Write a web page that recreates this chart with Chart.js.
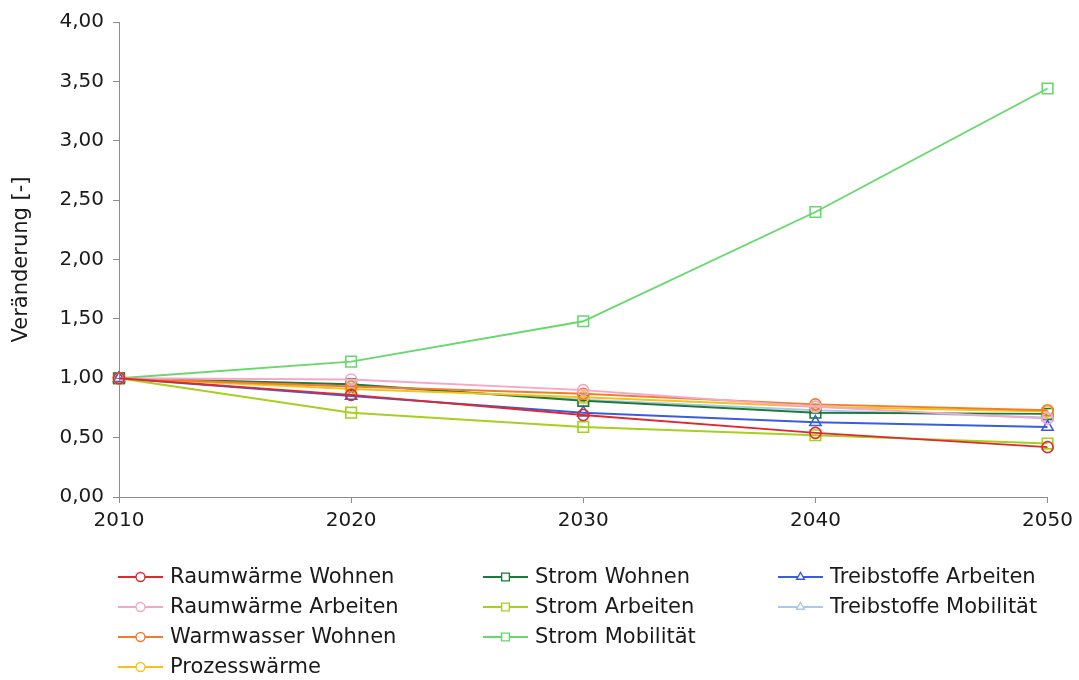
<!DOCTYPE html>
<html lang="de">
<head>
<meta charset="utf-8">
<title>Veränderung 2010–2050</title>
<script src="https://cdn.jsdelivr.net/npm/chart.js@4/dist/chart.umd.min.js"></script>
<style>
  html, body { margin: 0; padding: 0; background: #ffffff; }
  #wrap { position: relative; width: 1079px; height: 680px; }
</style>
</head>
<body>
<div id="wrap"><canvas id="chart"></canvas></div>
<script>
// Years on the x axis
const years = ['2010', '2020', '2030', '2040', '2050'];

// Relative change per consumption sector (2010 = 1)
const raumwaermeWohnen      = [1.00, 0.86, 0.69, 0.54, 0.42];
const raumwaermeArbeiten    = [1.00, 0.99, 0.90, 0.76, 0.66];
const warmwasserWohnen      = [1.00, 0.93, 0.87, 0.78, 0.73];
const prozesswaerme         = [1.00, 0.91, 0.84, 0.76, 0.72];
const stromWohnen           = [1.00, 0.95, 0.81, 0.71, 0.70];
const stromArbeiten         = [1.00, 0.71, 0.59, 0.52, 0.45];
const stromMobilitaet       = [1.00, 1.14, 1.48, 2.40, 3.44];
const treibstoffeArbeiten   = [1.00, 0.85, 0.71, 0.63, 0.59];
const treibstoffeMobilitaet = [1.00, 0.94, 0.82, 0.73, 0.67];

// Y axis range and tick step
const yMin = 0;
const yMax = 4;
const yStep = 0.5;

const FONT = 'DejaVu Sans';
const TEXT = '#1a1a1a';
const AXIS = '#8c8c8c';

function series(label, data, color, style) {
  const radius = style === 'rect' ? 7.5 : (style === 'triangle' ? 6.5 : 5.5);
  return {
    label: label,
    data: data,
    borderColor: color,
    backgroundColor: 'rgba(255,255,255,0)',
    borderWidth: 1.9,
    pointStyle: style,
    pointRadius: radius,
    pointHoverRadius: radius,
    pointBorderColor: color,
    pointBackgroundColor: 'rgba(255,255,255,0)',
    pointBorderWidth: 1.6,
    tension: 0,
    fill: false
  };
}

const datasets = [
  series('Raumwärme Wohnen',      raumwaermeWohnen,      '#e0282e', 'circle'),
  series('Raumwärme Arbeiten',    raumwaermeArbeiten,    '#f6a6c6', 'circle'),
  series('Warmwasser Wohnen',     warmwasserWohnen,      '#f47b2c', 'circle'),
  series('Prozesswärme',          prozesswaerme,         '#f2c41a', 'circle'),
  series('Strom Wohnen',          stromWohnen,           '#1f7a3a', 'rect'),
  series('Strom Arbeiten',        stromArbeiten,         '#a6d01e', 'rect'),
  series('Strom Mobilität',       stromMobilitaet,       '#66d86c', 'rect'),
  series('Treibstoffe Arbeiten',  treibstoffeArbeiten,   '#3a5ce0', 'triangle'),
  series('Treibstoffe Mobilität', treibstoffeMobilitaet, '#a9c8f0', 'triangle')
];

// Legend drawn in three columns below the plot area
const columnLegend = {
  id: 'columnLegend',
  afterDraw(chart) {
    const ctx = chart.ctx;
    const ds = chart.data.datasets;
    const columns = [
      { x: 118, items: [0, 1, 2, 3] },
      { x: 483, items: [4, 5, 6] },
      { x: 778, items: [7, 8] }
    ];
    const rowTop = 577, rowGap = 30, lineLen = 45;
    ctx.save();
    ctx.font = '21px "' + FONT + '"';
    ctx.textBaseline = 'middle';
    ctx.textAlign = 'left';
    columns.forEach(col => {
      col.items.forEach((idx, row) => {
        const d = ds[idx];
        const y = rowTop + row * rowGap;
        ctx.strokeStyle = d.borderColor;
        ctx.lineWidth = 1.9;
        ctx.beginPath();
        ctx.moveTo(col.x, y);
        ctx.lineTo(col.x + lineLen, y);
        ctx.stroke();
        ctx.fillStyle = '#ffffff';
        ctx.lineWidth = 1.4;
        Chart.helpers.drawPoint(ctx, {
          pointStyle: d.pointStyle,
          radius: d.pointStyle === 'rect' ? 5.5 : 4.5,
          rotation: 0,
          borderWidth: 1.4
        }, col.x + lineLen / 2, y);
        ctx.fillStyle = TEXT;
        ctx.fillText(d.label, col.x + lineLen + 7, y + 1);
      });
    });
    ctx.restore();
  }
};

new Chart(document.getElementById('chart'), {
  type: 'line',
  data: { labels: years, datasets: datasets },
  options: {
    responsive: true,
    maintainAspectRatio: false,
    animation: false,
    events: [],
    layout: { padding: { left: 0, right: 31, top: 22, bottom: 143 } },
    plugins: {
      legend: { display: false },
      tooltip: { enabled: false },
      title: { display: false }
    },
    scales: {
      x: {
        type: 'category',
        offset: false,
        grid: { drawOnChartArea: false, drawTicks: true, tickLength: 6, color: AXIS },
        border: { display: true, color: AXIS, width: 1 },
        ticks: {
          color: TEXT,
          font: { family: FONT, size: 20 },
          padding: 6,
          maxRotation: 0,
          autoSkip: false
        },
        afterFit(scale) { scale.height = 40; }
      },
      y: {
        min: yMin,
        max: yMax,
        grid: { drawOnChartArea: false, drawTicks: true, tickLength: 6, color: AXIS },
        border: { display: true, color: AXIS, width: 1 },
        ticks: {
          stepSize: yStep,
          color: TEXT,
          font: { family: FONT, size: 20 },
          padding: 9,
          callback: v => Number(v).toFixed(2).replace('.', ',')
        },
        title: {
          display: true,
          text: 'Veränderung [-]',
          color: TEXT,
          font: { family: FONT, size: 21 },
          padding: { top: 9, bottom: 0 }
        },
        afterFit(scale) { scale.width = 119; }
      }
    }
  },
  plugins: [columnLegend]
});
</script>
</body>
</html>
